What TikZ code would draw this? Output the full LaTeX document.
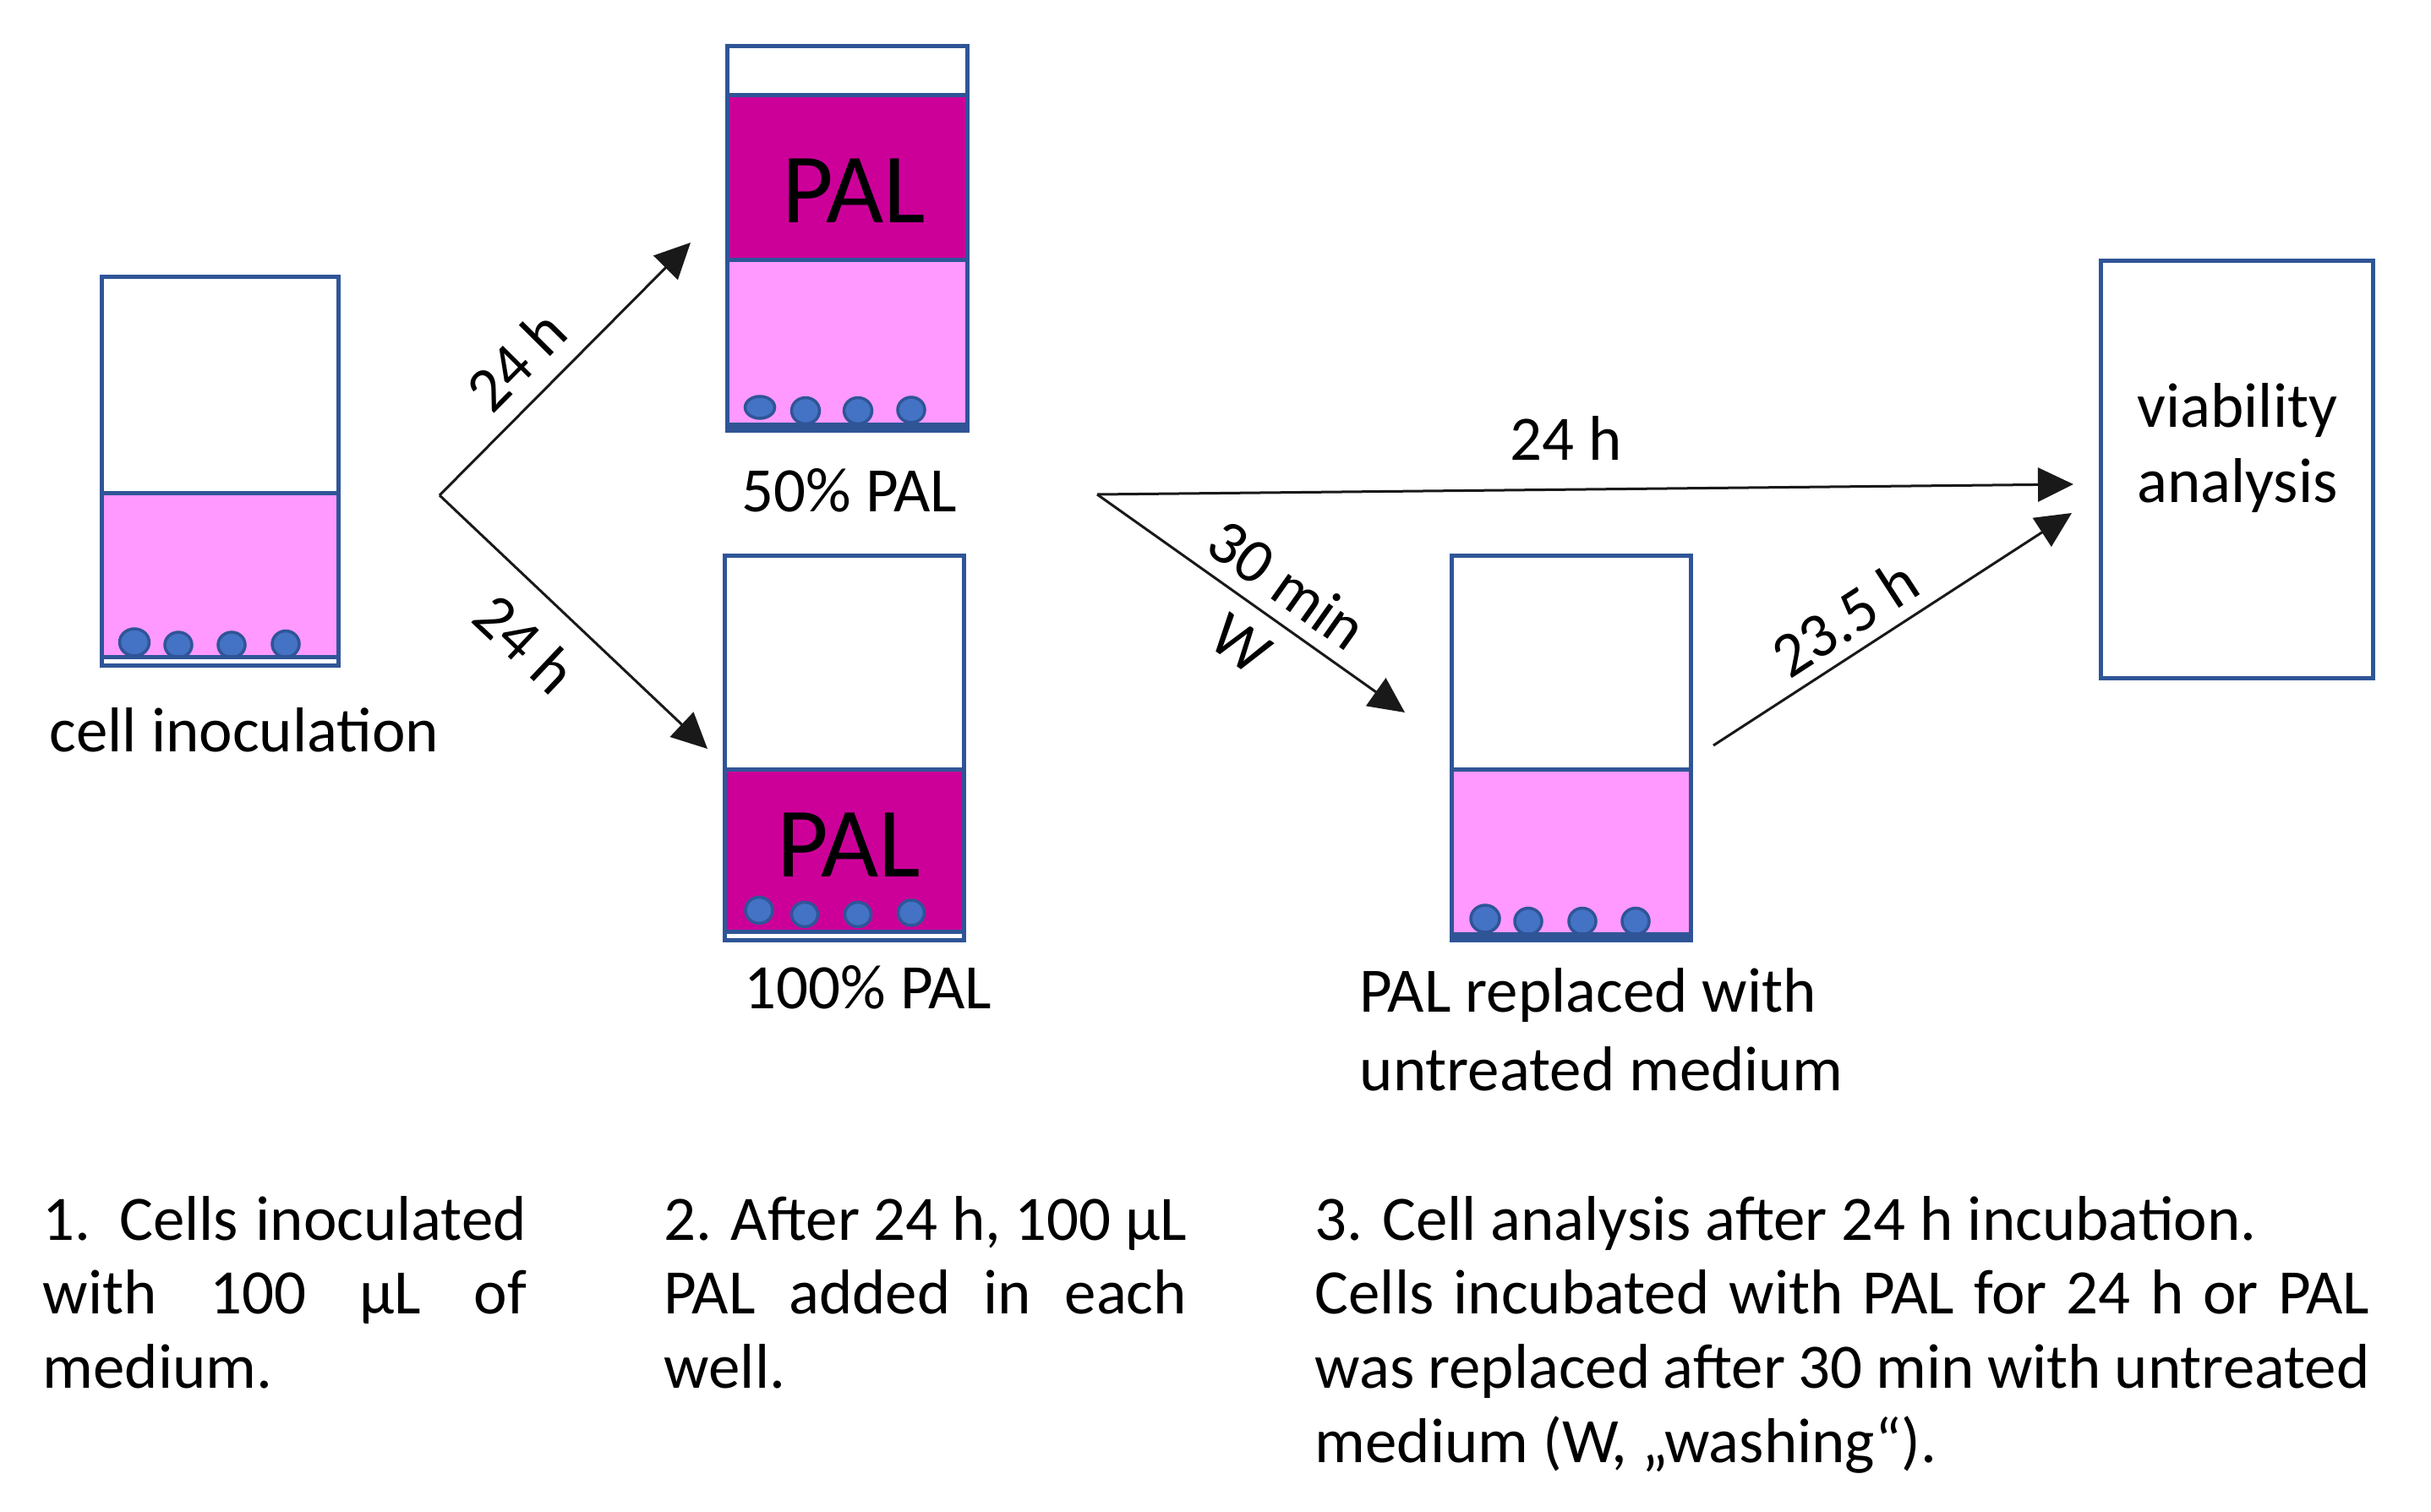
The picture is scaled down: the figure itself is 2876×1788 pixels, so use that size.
\documentclass[tikz,border=0pt]{standalone}
\usepackage{fontspec}
\setmainfont{Carlito}
\usetikzlibrary{arrows.meta}
\definecolor{wellblue}{RGB}{47,85,151}
\definecolor{cellblue}{RGB}{68,114,196}
\definecolor{pinkmed}{RGB}{255,153,255}
\definecolor{palmag}{RGB}{204,0,153}
\definecolor{arrowgray}{RGB}{25,25,25}
\newcommand{\lab}{\fontsize{21.3}{25}\selectfont}
\newcommand{\labwide}{\fontsize{21.3}{26.5}\selectfont}
\newcommand{\labvia}{\fontsize{21.3}{25.5}\selectfont}
\newcommand{\bigpal}{\fontsize{33.5}{40}\selectfont}
\begin{document}
\begin{tikzpicture}[x=0.01cm,y=-0.01cm,
  wellbox/.style={draw=wellblue, line width=0.05cm, inner sep=0, outer sep=0},
  cell/.style={fill=cellblue, draw=wellblue, line width=0.035cm},
  wline/.style={draw=wellblue, line width=0.05cm},
  arr/.style={draw=arrowgray, line width=0.03cm, -{Triangle[length=0.42cm,width=0.40cm]}},
  lbl/.style={font=\lab, inner sep=0, text=black},
]
\useasboundingbox[fill=white] (0,0) rectangle (2876,1788);

% ---------- Well 1: cell inoculation ----------
\fill[pinkmed] (120,583) rectangle (401,777);
\draw[cell] (159,760) ellipse[x radius=0.175cm, y radius=0.16cm];
\draw[cell] (211,763) ellipse[x radius=0.16cm, y radius=0.15cm];
\draw[cell] (274,763) ellipse[x radius=0.16cm, y radius=0.15cm];
\draw[cell] (338,762) ellipse[x radius=0.16cm, y radius=0.155cm];
\draw[wline] (120,583) -- (401,583);
\fill[white] (120,780) rectangle (401,785);
\draw[wline] (120,777.5) -- (401,777.5);
\node[wellbox, minimum width=2.80cm, minimum height=4.60cm] (w1) at (260.5,557.5) {};

% ---------- Well 2: 50% PAL ----------
\fill[palmag] (860,113) rectangle (1145,307);
\fill[pinkmed] (860,307) rectangle (1145,502);
\draw[cell] (899,482) ellipse[x radius=0.175cm, y radius=0.13cm];
\draw[cell] (953,486) ellipse[x radius=0.165cm, y radius=0.155cm];
\draw[cell] (1015,486) ellipse[x radius=0.165cm, y radius=0.155cm];
\draw[cell] (1078,485) ellipse[x radius=0.16cm, y radius=0.15cm];
\draw[wline] (860,113) -- (1145,113);
\draw[wline] (860,307.5) -- (1145,307.5);
\fill[wellblue] (860,500) rectangle (1145,512);
\node[wellbox, minimum width=2.84cm, minimum height=4.55cm] (w2) at (1002.5,282) {};
\node[font=\bigpal, inner sep=0, anchor=base] (pal2) at (1010,263) {PAL};

% ---------- Well 3: 100% PAL ----------
\fill[palmag] (857,910) rectangle (1141,1102);
\draw[cell] (898,1077) ellipse[x radius=0.16cm, y radius=0.155cm];
\draw[cell] (952,1082) ellipse[x radius=0.155cm, y radius=0.145cm];
\draw[cell] (1015,1082) ellipse[x radius=0.155cm, y radius=0.145cm];
\draw[cell] (1078,1080) ellipse[x radius=0.155cm, y radius=0.15cm];
\draw[wline] (857,910) -- (1141,910);
\fill[white] (857,1105) rectangle (1141,1110);
\draw[wline] (857,1102.5) -- (1141,1102.5);
\node[wellbox, minimum width=2.83cm, minimum height=4.55cm] (w3) at (999,885) {};
\node[font=\bigpal, inner sep=0, anchor=base] (pal3) at (1004,1037) {PAL};

% ---------- Well 4: PAL replaced ----------
\fill[pinkmed] (1717,910) rectangle (2001,1106);
\draw[cell] (1757,1087) ellipse[x radius=0.17cm, y radius=0.16cm];
\draw[cell] (1808,1090) ellipse[x radius=0.16cm, y radius=0.155cm];
\draw[cell] (1872,1090) ellipse[x radius=0.16cm, y radius=0.155cm];
\draw[cell] (1935,1090) ellipse[x radius=0.16cm, y radius=0.155cm];
\draw[wline] (1717,910) -- (2001,910);
\fill[wellblue] (1717,1103) rectangle (2001,1115);
\node[wellbox, minimum width=2.83cm, minimum height=4.55cm] (w4) at (1859,885) {};

% ---------- Viability box ----------
\node[wellbox, minimum width=3.22cm, minimum height=4.94cm] (via) at (2646.5,555.5) {};
\node[lbl, font=\labvia, anchor=base] (vialab) at (2647,505)
  {\begin{tabular}[t]{@{}c@{}}viability\\analysis\end{tabular}};

% ---------- Well labels ----------
\node[lbl, anchor=base] (lcell) at (289,889) {cell inoculation};
\node[lbl, anchor=base] (l50) at (1005,605) {50\% PAL};
\node[lbl, anchor=base] (l100) at (1027,1193) {100\% PAL};
\node[lbl, font=\labwide, anchor=base west] (lrep) at (1608,1197)
  {\begin{tabular}[t]{@{}l@{}}PAL replaced with\\untreated medium\end{tabular}};

% ---------- Arrows ----------
\coordinate (f1) at (520,586);
\coordinate (t1) at (817,287);
\coordinate (t2) at (837,886);
\draw[arr] (f1) -- node[lbl, sloped, pos=0.42, above=0.21cm] (a1) {24 h} (t1);
\draw[arr] (f1) -- node[lbl, sloped, pos=0.445, below=0.30cm] (a2) {24 h} (t2);

\coordinate (f2) at (1298,585);
\coordinate (t3) at (2453,573);
\coordinate (t4) at (1662,843);
\draw[arr] (f2) -- node[lbl, pos=0.48, above=0.33cm] (a3) {24 h} (t3);
\draw[arr] (f2) -- node[lbl, sloped, pos=0.55, above=0.16cm] (a4) {30 min}
                   node[lbl, sloped, pos=0.54, below=0.21cm] (a5) {W} (t4);

\coordinate (c5) at (2027,882);
\coordinate (t5) at (2451,607);
\draw[arr] (c5) -- node[lbl, sloped, pos=0.42, above=0.14cm] (a6) {23.5 h} (t5);

% ---------- Bottom paragraphs ----------
\node[lbl, anchor=base west] (p1) at (50,1467)
  {\parbox[t]{5.72cm}{\makebox[\linewidth][s]{1. Cells inoculated}\\
   \makebox[\linewidth][s]{with 100 µL of}\\
   medium.}};
\node[lbl, anchor=base west] (p2) at (785,1467)
  {\parbox[t]{6.18cm}{\makebox[\linewidth][s]{2. After 24 h, 100 µL}\\
   \makebox[\linewidth][s]{PAL added in each}\\
   well.}};
\node[lbl, anchor=base west] (p3) at (1555,1467)
  {\parbox[t]{12.47cm}{3. Cell analysis after 24 h incubation.\\
   \makebox[\linewidth][s]{Cells incubated with PAL for 24 h or PAL}\\
   \makebox[\linewidth][s]{was replaced after 30 min with untreated}\\
   medium (W, „washing“).}};
\end{tikzpicture}
\end{document}
